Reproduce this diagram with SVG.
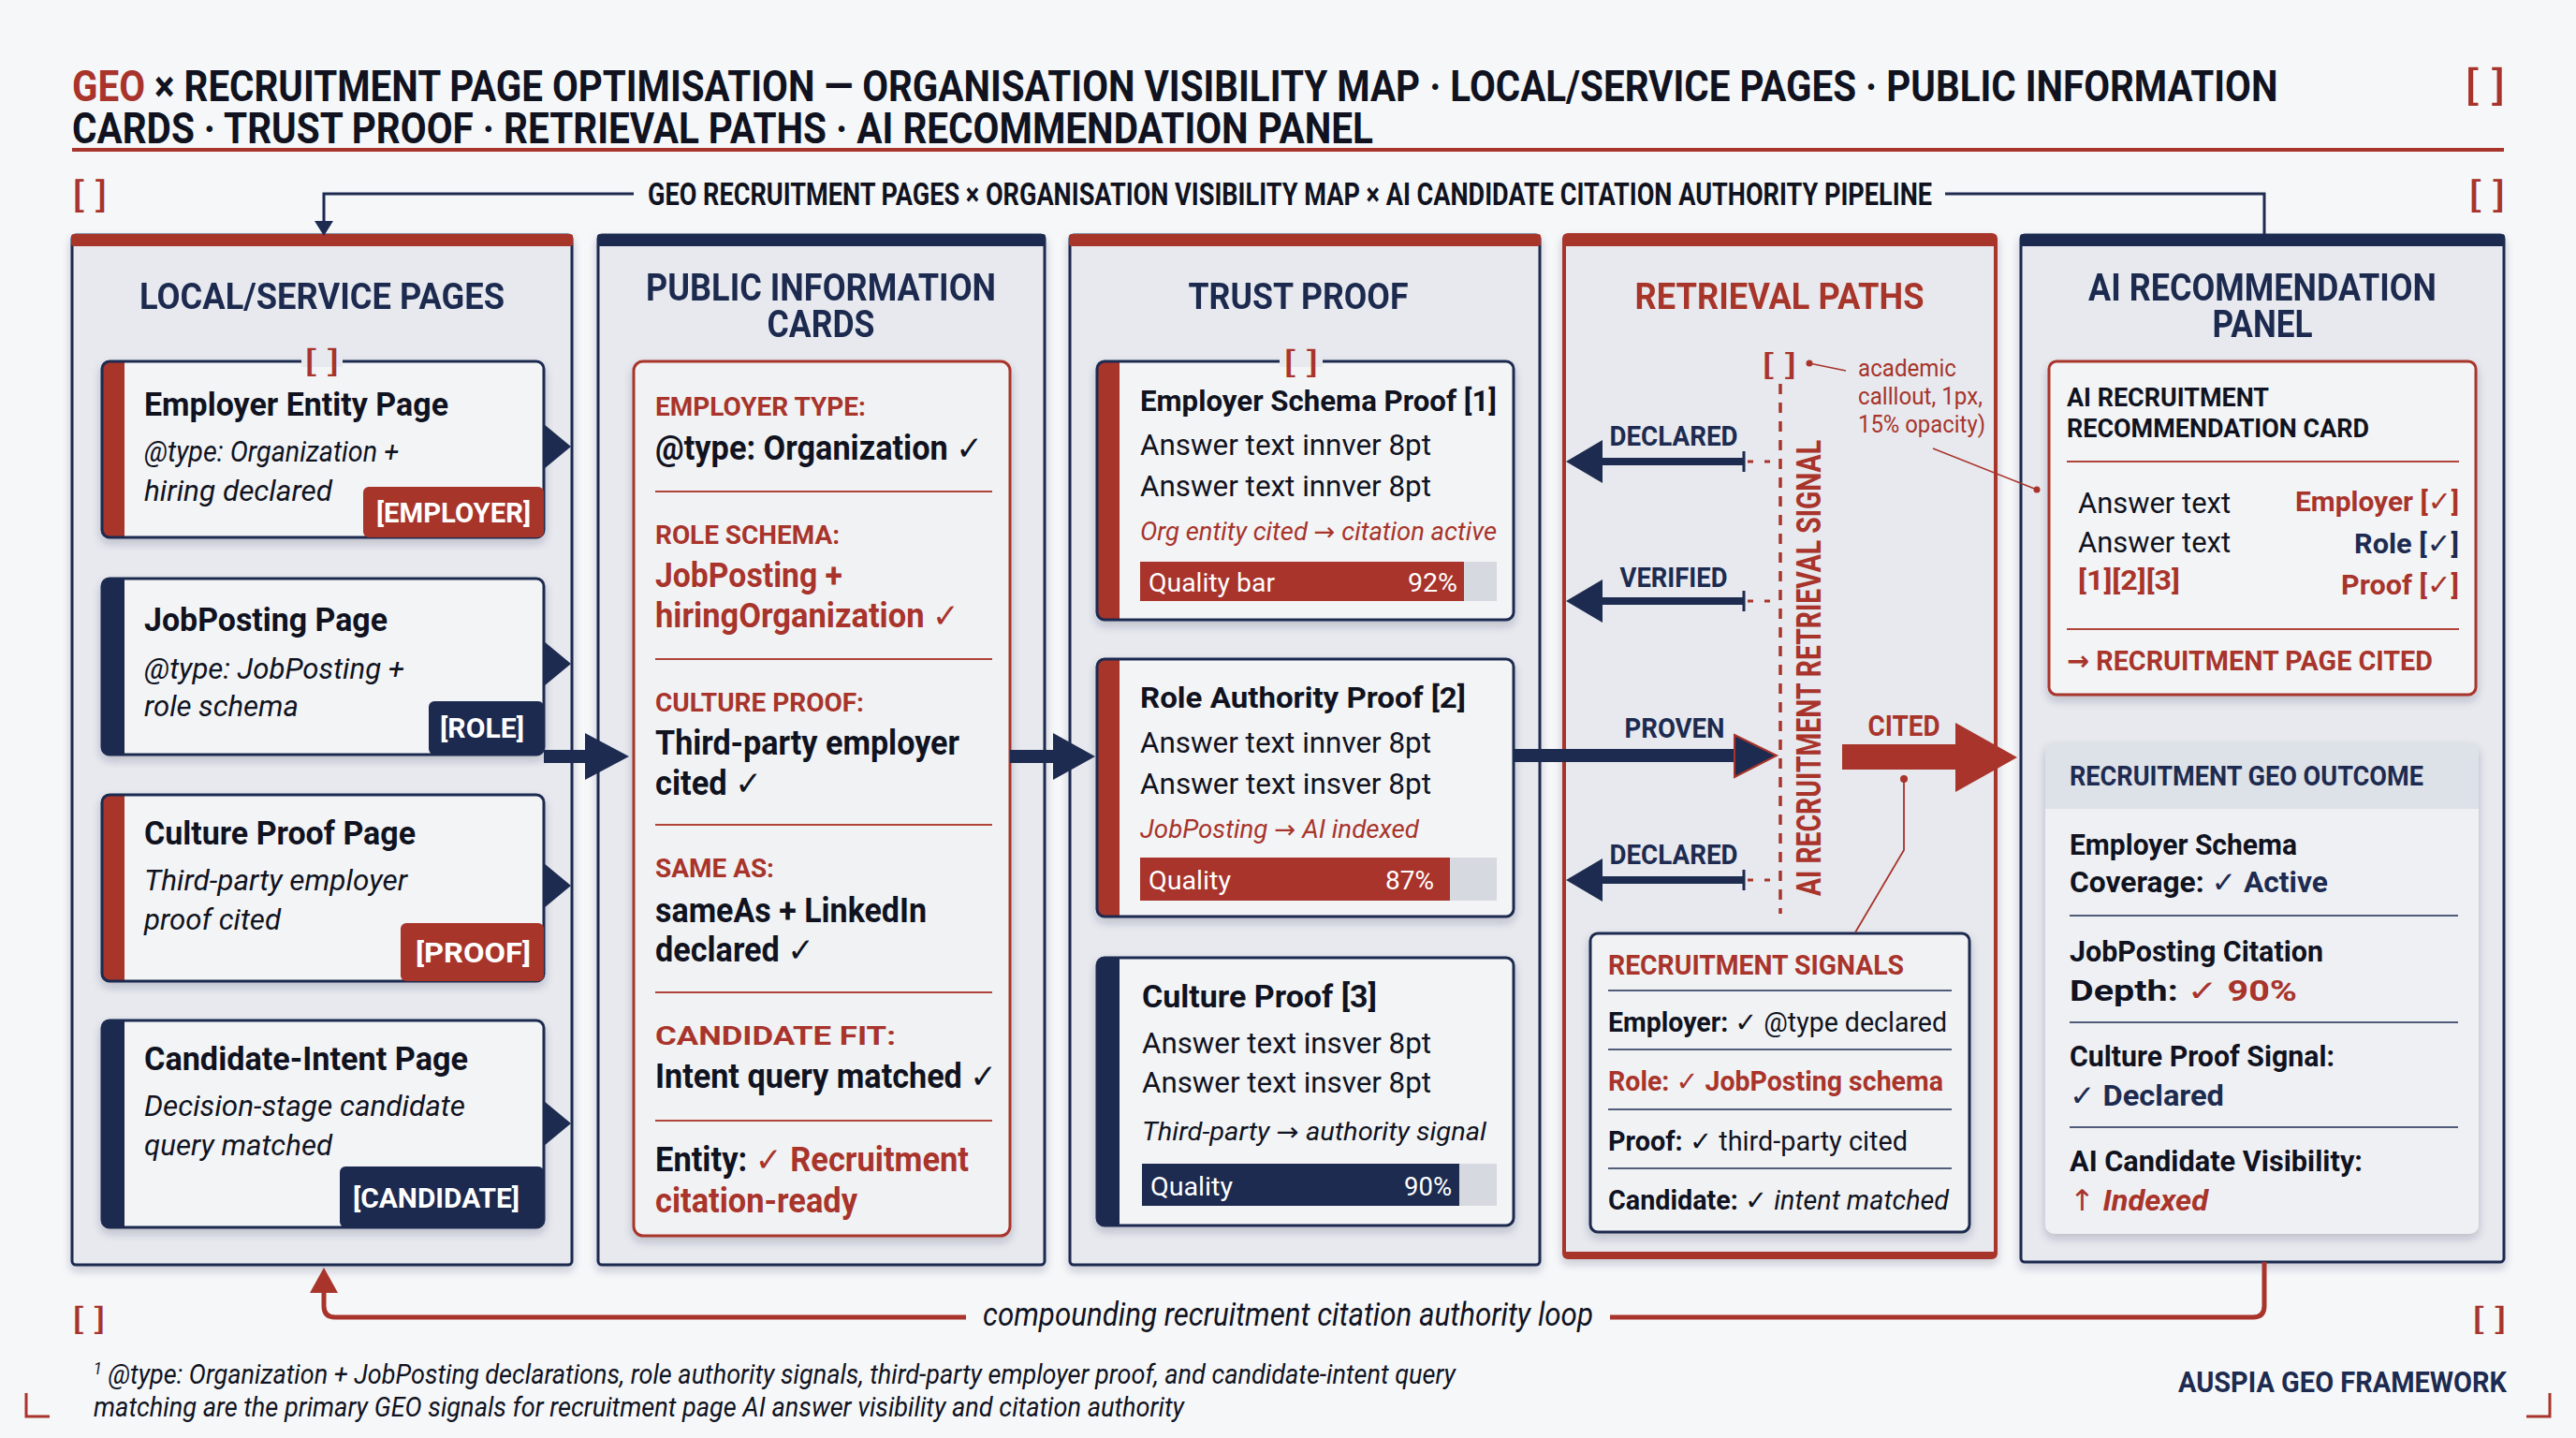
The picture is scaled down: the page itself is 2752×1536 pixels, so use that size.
<svg xmlns="http://www.w3.org/2000/svg" width="2752" height="1536" viewBox="0 0 2752 1536">
<defs>
<style>
text{font-family:Roboto,"Liberation Sans","DejaVu Sans",sans-serif;}
.ink{fill:#10131f}
.red{fill:#a8342b}
.navy{fill:#1d2b50}
.b{font-weight:700}
.i{font-style:italic}
.panel{fill:#e7e9ee;stroke:#1d2b50;stroke-width:3}
.card{fill:#f3f4f6}
.outline{fill:none;stroke:#1d2b50;stroke-width:3}
.div{stroke:#b0443b;stroke-width:2}
.gdiv{stroke:#1d2b50;stroke-width:1.5}
.wt{fill:#ffffff;font-weight:700}
.arw{font-family:"DejaVu Sans",sans-serif}
</style>
<filter id="sh" x="-5%" y="-5%" width="110%" height="112%">
<feDropShadow dx="0" dy="5" stdDeviation="5" flood-color="#1d2b50" flood-opacity="0.22"/>
</filter>
</defs>
<rect width="2752" height="1536" fill="#f6f7f9"/>

<!-- Title -->
<g id="title">
<text transform="translate(77,108) scale(0.78,1)" x="0" y="0" font-size="46" class="b ink" textLength="3021" lengthAdjust="spacingAndGlyphs"><tspan class="red">GEO</tspan> × RECRUITMENT PAGE OPTIMISATION — ORGANISATION VISIBILITY MAP · LOCAL/SERVICE PAGES · PUBLIC INFORMATION</text>
<text transform="translate(77,153) scale(0.78,1)" x="0" y="0" font-size="46" class="b ink" textLength="1782" lengthAdjust="spacingAndGlyphs">CARDS · TRUST PROOF · RETRIEVAL PATHS ·  AI RECOMMENDATION PANEL</text>
<rect x="77" y="158" width="2598" height="4" fill="#a8342b"/>
<text x="2633" y="106" font-size="42" class="red" textLength="44" lengthAdjust="spacingAndGlyphs">[ ]</text>
<text x="77" y="221" font-size="36" class="red" textLength="38" lengthAdjust="spacingAndGlyphs">[ ]</text>
<text x="2637" y="221" font-size="36" class="red" textLength="40" lengthAdjust="spacingAndGlyphs">[ ]</text>
<text transform="translate(692,219) scale(0.8,1)" x="0" y="0" font-size="33" class="b ink" textLength="1715" lengthAdjust="spacingAndGlyphs">GEO RECRUITMENT PAGES × ORGANISATION VISIBILITY MAP × AI CANDIDATE CITATION AUTHORITY PIPELINE</text>
</g>

<!-- Panels -->
<g id="panel-local" filter="url(#sh)">
<rect x="77" y="251" width="534" height="1100" rx="4" class="panel"/>
<rect x="76" y="250" width="536" height="13" rx="3" fill="#a8342b"/>
<text x="344" y="330" font-size="39" class="b navy" text-anchor="middle" textLength="390" lengthAdjust="spacingAndGlyphs">LOCAL/SERVICE PAGES</text>
</g>
<g id="panel-public" filter="url(#sh)">
<rect x="639" y="251" width="477" height="1100" rx="4" class="panel"/>
<rect x="638" y="250" width="479" height="13" rx="3" fill="#1d2b50"/>
<text x="877" y="321" font-size="40" class="b navy" text-anchor="middle" textLength="374" lengthAdjust="spacingAndGlyphs">PUBLIC INFORMATION</text>
<text x="877" y="360" font-size="40" class="b navy" text-anchor="middle" textLength="115" lengthAdjust="spacingAndGlyphs">CARDS</text>
</g>
<g id="panel-trust" filter="url(#sh)">
<rect x="1143" y="251" width="502" height="1100" rx="4" class="panel"/>
<rect x="1142" y="250" width="504" height="13" rx="3" fill="#a8342b"/>
<text x="1387" y="330" font-size="39" class="b navy" text-anchor="middle" textLength="235" lengthAdjust="spacingAndGlyphs">TRUST PROOF</text>
</g>
<g id="panel-retrieval" filter="url(#sh)">
<rect x="1671" y="251" width="461" height="1092" rx="4" fill="#e7e9ee" stroke="#a8342b" stroke-width="4"/>
<rect x="1670" y="250" width="463" height="13" rx="3" fill="#a8342b"/>
<rect x="1670" y="1337" width="463" height="7" rx="3" fill="#a8342b"/>
<text x="1901" y="330" font-size="39" class="b red" text-anchor="middle" textLength="309" lengthAdjust="spacingAndGlyphs">RETRIEVAL PATHS</text>
</g>
<g id="panel-ai" filter="url(#sh)">
<rect x="2159" y="251" width="516" height="1097" rx="4" class="panel"/>
<rect x="2158" y="250" width="518" height="13" rx="3" fill="#1d2b50"/>
<text x="2417" y="321" font-size="40" class="b navy" text-anchor="middle" textLength="372" lengthAdjust="spacingAndGlyphs">AI RECOMMENDATION</text>
<text x="2417" y="360" font-size="40" class="b navy" text-anchor="middle" textLength="107" lengthAdjust="spacingAndGlyphs">PANEL</text>
</g>

<!-- Panel 1 cards -->
<g id="card-employer">
<g filter="url(#sh)">
<rect x="109" y="386" width="472" height="188" rx="8" class="card"/>
<path d="M117 386 H133 V574 H117 Q109 574 109 566 V394 Q109 386 117 386Z" fill="#a8342b"/>
<rect x="109" y="386" width="472" height="188" rx="8" class="outline"/>
<rect x="388" y="520" width="193" height="54" rx="6" fill="#a8342b"/>
</g>
<rect x="322" y="380" width="44" height="12" fill="#e7e9ee"/>
<text x="325" y="397" font-size="32" class="red" textLength="38" lengthAdjust="spacingAndGlyphs">[ ]</text>
<text x="154" y="444" font-size="35" class="b ink" textLength="325" lengthAdjust="spacingAndGlyphs">Employer Entity Page</text>
<text x="154" y="493" font-size="31" class="i ink" textLength="272" lengthAdjust="spacingAndGlyphs">@type: Organization +</text>
<text x="154" y="535" font-size="31" class="i ink" textLength="201" lengthAdjust="spacingAndGlyphs">hiring declared</text>
<text x="402" y="558" font-size="30" class="wt" textLength="165" lengthAdjust="spacingAndGlyphs">[EMPLOYER]</text>
<path d="M581 453 L610 477 L581 501 Z" fill="#1d2b50"/>
</g>
<g id="card-jobposting">
<g filter="url(#sh)">
<rect x="109" y="618" width="472" height="188" rx="8" class="card"/>
<path d="M117 618 H133 V806 H117 Q109 806 109 798 V626 Q109 618 117 618Z" fill="#1d2b50"/>
<rect x="109" y="618" width="472" height="188" rx="8" class="outline"/>
<rect x="458" y="749" width="123" height="57" rx="6" fill="#1d2b50"/>
</g>
<text x="154" y="674" font-size="35" class="b ink" textLength="260" lengthAdjust="spacingAndGlyphs">JobPosting Page</text>
<text x="154" y="725" font-size="31" class="i ink" textLength="278" lengthAdjust="spacingAndGlyphs">@type: JobPosting +</text>
<text x="154" y="765" font-size="31" class="i ink" textLength="165" lengthAdjust="spacingAndGlyphs">role schema</text>
<text x="470" y="788" font-size="30" class="wt" textLength="90" lengthAdjust="spacingAndGlyphs">[ROLE]</text>
<path d="M581 685 L610 709 L581 733 Z" fill="#1d2b50"/>
</g>
<g id="card-culture">
<g filter="url(#sh)">
<rect x="109" y="849" width="472" height="199" rx="8" class="card"/>
<path d="M117 849 H133 V1048 H117 Q109 1048 109 1040 V857 Q109 849 117 849Z" fill="#a8342b"/>
<rect x="109" y="849" width="472" height="199" rx="8" class="outline"/>
<rect x="428" y="986" width="153" height="62" rx="6" fill="#a8342b"/>
</g>
<text x="154" y="902" font-size="35" class="b ink" textLength="290" lengthAdjust="spacingAndGlyphs">Culture Proof Page</text>
<text x="154" y="951" font-size="31" class="i ink" textLength="281" lengthAdjust="spacingAndGlyphs">Third-party employer</text>
<text x="154" y="993" font-size="31" class="i ink" textLength="146" lengthAdjust="spacingAndGlyphs">proof cited</text>
<text x="444" y="1028" font-size="30" class="wt" textLength="123" lengthAdjust="spacingAndGlyphs">[PROOF]</text>
<path d="M581 922 L610 946 L581 970 Z" fill="#1d2b50"/>
</g>
<g id="card-candidate">
<g filter="url(#sh)">
<rect x="109" y="1090" width="472" height="221" rx="8" class="card"/>
<path d="M117 1090 H133 V1311 H117 Q109 1311 109 1303 V1098 Q109 1090 117 1090Z" fill="#1d2b50"/>
<rect x="109" y="1090" width="472" height="221" rx="8" class="outline"/>
<rect x="363" y="1246" width="218" height="65" rx="6" fill="#1d2b50"/>
</g>
<text x="154" y="1143" font-size="35" class="b ink" textLength="346" lengthAdjust="spacingAndGlyphs">Candidate-Intent Page</text>
<text x="154" y="1192" font-size="31" class="i ink" textLength="343" lengthAdjust="spacingAndGlyphs">Decision-stage candidate</text>
<text x="154" y="1234" font-size="31" class="i ink" textLength="201" lengthAdjust="spacingAndGlyphs">query matched</text>
<text x="377" y="1290" font-size="30" class="wt" textLength="178" lengthAdjust="spacingAndGlyphs">[CANDIDATE]</text>
<path d="M581 1176 L610 1200 L581 1224 Z" fill="#1d2b50"/>
</g>

<!-- Panel 2 card -->
<g id="card-public-info">
<rect x="677" y="386" width="402" height="934" rx="10" fill="#f1f2f4" stroke="#a8342b" stroke-width="3" filter="url(#sh)"/>
<text x="700" y="444" font-size="28" class="b red" textLength="225" lengthAdjust="spacingAndGlyphs">EMPLOYER TYPE:</text>
<text x="700" y="491" font-size="36" class="b ink" textLength="350" lengthAdjust="spacingAndGlyphs">@type: Organization ✓</text>
<line x1="700" y1="525" x2="1060" y2="525" class="div"/>
<text x="700" y="581" font-size="28" class="b red" textLength="197" lengthAdjust="spacingAndGlyphs">ROLE SCHEMA:</text>
<text x="700" y="627" font-size="36" class="b red" textLength="200" lengthAdjust="spacingAndGlyphs">JobPosting +</text>
<text x="700" y="670" font-size="36" class="b red" textLength="325" lengthAdjust="spacingAndGlyphs">hiringOrganization ✓</text>
<line x1="700" y1="704" x2="1060" y2="704" class="div"/>
<text x="700" y="760" font-size="28" class="b red" textLength="223" lengthAdjust="spacingAndGlyphs">CULTURE PROOF:</text>
<text x="700" y="806" font-size="36" class="b ink" textLength="325" lengthAdjust="spacingAndGlyphs">Third-party employer</text>
<text x="700" y="849" font-size="36" class="b ink" textLength="114" lengthAdjust="spacingAndGlyphs">cited ✓</text>
<line x1="700" y1="881" x2="1060" y2="881" class="div"/>
<text x="700" y="937" font-size="28" class="b red" textLength="127" lengthAdjust="spacingAndGlyphs">SAME AS:</text>
<text x="700" y="985" font-size="36" class="b ink" textLength="290" lengthAdjust="spacingAndGlyphs">sameAs + LinkedIn</text>
<text x="700" y="1027" font-size="36" class="b ink" textLength="170" lengthAdjust="spacingAndGlyphs">declared ✓</text>
<line x1="700" y1="1060" x2="1060" y2="1060" class="div"/>
<text x="700" y="1116" font-size="28" class="b red" textLength="257" lengthAdjust="spacingAndGlyphs">CANDIDATE FIT:</text>
<text x="700" y="1162" font-size="36" class="b ink" textLength="365" lengthAdjust="spacingAndGlyphs">Intent query matched ✓</text>
<line x1="700" y1="1197" x2="1060" y2="1197" class="div"/>
<text x="700" y="1251" font-size="36" class="b ink" textLength="335" lengthAdjust="spacingAndGlyphs">Entity: <tspan class="red">✓ Recruitment</tspan></text>
<text x="700" y="1295" font-size="36" class="b red" textLength="216" lengthAdjust="spacingAndGlyphs">citation-ready</text>
</g>

<!-- Panel 3 cards -->
<g id="card-employer-proof">
<g filter="url(#sh)">
<rect x="1172" y="386" width="445" height="276" rx="8" class="card"/>
<path d="M1180 386 H1196 V662 H1180 Q1172 662 1172 654 V394 Q1172 386 1180 386Z" fill="#a8342b"/>
<rect x="1172" y="386" width="445" height="276" rx="8" class="outline"/>
</g>
<rect x="1367" y="380" width="46" height="12" fill="#e7e9ee"/>
<text x="1371" y="398" font-size="32" class="red" textLength="38" lengthAdjust="spacingAndGlyphs">[ ]</text>
<text x="1218" y="439" font-size="32" class="b ink" textLength="381" lengthAdjust="spacingAndGlyphs">Employer Schema Proof [1]</text>
<text x="1218" y="486" font-size="31" class="ink" textLength="311" lengthAdjust="spacingAndGlyphs">Answer text innver 8pt</text>
<text x="1218" y="530" font-size="31" class="ink" textLength="311" lengthAdjust="spacingAndGlyphs">Answer text innver 8pt</text>
<text x="1218" y="577" font-size="27" class="i red" textLength="381" lengthAdjust="spacingAndGlyphs">Org entity cited <tspan class="arw">→</tspan> citation active</text>
<rect x="1218" y="600" width="381" height="42" fill="#d6d9df"/>
<rect x="1218" y="600" width="346" height="42" fill="#a8342b"/>
<text x="1227" y="632" font-size="28" fill="#ffffff" textLength="135" lengthAdjust="spacingAndGlyphs">Quality bar</text>
<text x="1557" y="632" font-size="28" fill="#ffffff" text-anchor="end" textLength="53" lengthAdjust="spacingAndGlyphs">92%</text>
</g>
<g id="card-role-proof">
<g filter="url(#sh)">
<rect x="1172" y="704" width="445" height="275" rx="8" class="card"/>
<path d="M1180 704 H1196 V979 H1180 Q1172 979 1172 971 V712 Q1172 704 1180 704Z" fill="#a8342b"/>
<rect x="1172" y="704" width="445" height="275" rx="8" class="outline"/>
</g>
<text x="1218" y="756" font-size="32" class="b ink" textLength="348" lengthAdjust="spacingAndGlyphs">Role Authority Proof [2]</text>
<text x="1218" y="804" font-size="31" class="ink" textLength="311" lengthAdjust="spacingAndGlyphs">Answer text innver 8pt</text>
<text x="1218" y="848" font-size="31" class="ink" textLength="311" lengthAdjust="spacingAndGlyphs">Answer text insver 8pt</text>
<text x="1218" y="895" font-size="27" class="i red" textLength="298" lengthAdjust="spacingAndGlyphs">JobPosting <tspan class="arw">→</tspan> AI indexed</text>
<rect x="1218" y="916" width="381" height="46" fill="#d6d9df"/>
<rect x="1218" y="916" width="331" height="46" fill="#a8342b"/>
<text x="1227" y="950" font-size="28" fill="#ffffff" textLength="88" lengthAdjust="spacingAndGlyphs">Quality</text>
<text x="1532" y="950" font-size="28" fill="#ffffff" text-anchor="end" textLength="52" lengthAdjust="spacingAndGlyphs">87%</text>
</g>
<g id="card-culture-proof">
<g filter="url(#sh)">
<rect x="1172" y="1023" width="445" height="286" rx="8" class="card"/>
<path d="M1180 1023 H1196 V1309 H1180 Q1172 1309 1172 1301 V1031 Q1172 1023 1180 1023Z" fill="#1d2b50"/>
<rect x="1172" y="1023" width="445" height="286" rx="8" class="outline"/>
</g>
<text x="1220" y="1076" font-size="33" class="b ink" textLength="251" lengthAdjust="spacingAndGlyphs">Culture Proof [3]</text>
<text x="1220" y="1125" font-size="31" class="ink" textLength="309" lengthAdjust="spacingAndGlyphs">Answer text insver 8pt</text>
<text x="1220" y="1167" font-size="31" class="ink" textLength="309" lengthAdjust="spacingAndGlyphs">Answer text insver 8pt</text>
<text x="1220" y="1218" font-size="27" class="i ink" textLength="368" lengthAdjust="spacingAndGlyphs">Third-party <tspan class="arw">→</tspan> authority signal</text>
<rect x="1220" y="1243" width="379" height="45" fill="#d6d9df"/>
<rect x="1220" y="1243" width="339" height="45" fill="#1d2b50"/>
<text x="1229" y="1277" font-size="28" fill="#ffffff" textLength="88" lengthAdjust="spacingAndGlyphs">Quality</text>
<text x="1551" y="1277" font-size="28" fill="#ffffff" text-anchor="end" textLength="51" lengthAdjust="spacingAndGlyphs">90%</text>
</g>

<!-- Panel 4 contents -->
<g id="retrieval-signal">
<line x1="1902" y1="410" x2="1902" y2="976" stroke="#a8342b" stroke-width="3.5" stroke-dasharray="11 9"/>
<text transform="translate(1945,957) rotate(-90)" font-size="36" class="b red" textLength="487" lengthAdjust="spacingAndGlyphs">AI RECRUITMENT RETRIEVAL SIGNAL</text>
<text x="1882" y="400" font-size="30" class="red" textLength="38" lengthAdjust="spacingAndGlyphs">[ ]</text>
<circle cx="1933" cy="388" r="3.5" fill="#a8342b"/>
<line x1="1933" y1="388" x2="1972" y2="396" stroke="#a8342b" stroke-width="1.5"/>
<text x="1985" y="402" font-size="25" class="red" textLength="105" lengthAdjust="spacingAndGlyphs">academic</text>
<text x="1985" y="432" font-size="25" class="red" textLength="133" lengthAdjust="spacingAndGlyphs">calllout, 1px,</text>
<text x="1985" y="462" font-size="25" class="red" textLength="136" lengthAdjust="spacingAndGlyphs">15% opacity)</text>
</g>

<!-- Recruitment signals -->
<g id="recruitment-signals">
<rect x="1699" y="997" width="405" height="319" rx="8" fill="#f1f2f4" stroke="#1d2b50" stroke-width="3" filter="url(#sh)"/>
<text x="1718" y="1041" font-size="30" class="b red" textLength="316" lengthAdjust="spacingAndGlyphs">RECRUITMENT SIGNALS</text>
<line x1="1718" y1="1058" x2="2085" y2="1058" class="gdiv"/>
<text x="1718" y="1102" font-size="29" class="ink" textLength="362" lengthAdjust="spacingAndGlyphs"><tspan class="b">Employer: ✓</tspan> @type declared</text>
<line x1="1718" y1="1121" x2="2085" y2="1121" class="gdiv"/>
<text x="1718" y="1165" font-size="29" class="b red" textLength="358" lengthAdjust="spacingAndGlyphs">Role: ✓ JobPosting schema</text>
<line x1="1718" y1="1185" x2="2085" y2="1185" class="gdiv"/>
<text x="1718" y="1229" font-size="29" class="ink" textLength="320" lengthAdjust="spacingAndGlyphs"><tspan class="b">Proof:</tspan> ✓ third-party cited</text>
<line x1="1718" y1="1248" x2="2085" y2="1248" class="gdiv"/>
<text x="1718" y="1292" font-size="29" class="ink" textLength="364" lengthAdjust="spacingAndGlyphs"><tspan class="b">Candidate: ✓</tspan> <tspan class="i">intent matched</tspan></text>
</g>

<!-- Panel 5 contents -->
<g id="card-ai-recommendation">
<rect x="2189" y="386" width="456" height="356" rx="8" fill="#f3f4f6" stroke="#a8342b" stroke-width="3" filter="url(#sh)"/>
<text x="2208" y="434" font-size="28" class="b ink" textLength="216" lengthAdjust="spacingAndGlyphs">AI RECRUITMENT</text>
<text x="2208" y="467" font-size="28" class="b ink" textLength="323" lengthAdjust="spacingAndGlyphs">RECOMMENDATION CARD</text>
<line x1="2208" y1="493" x2="2627" y2="493" class="div"/>
<text x="2220" y="548" font-size="31" class="ink" textLength="163" lengthAdjust="spacingAndGlyphs">Answer text</text>
<text x="2220" y="590" font-size="31" class="ink" textLength="163" lengthAdjust="spacingAndGlyphs">Answer text</text>
<text x="2220" y="630" font-size="30" class="b red" textLength="109" lengthAdjust="spacingAndGlyphs">[1][2][3]</text>
<text x="2627" y="546" font-size="30" class="b red" text-anchor="end" textLength="175" lengthAdjust="spacingAndGlyphs">Employer [✓]</text>
<text x="2627" y="591" font-size="30" class="b navy" text-anchor="end" textLength="112" lengthAdjust="spacingAndGlyphs">Role [✓]</text>
<text x="2627" y="635" font-size="30" class="b red" text-anchor="end" textLength="126" lengthAdjust="spacingAndGlyphs">Proof [✓]</text>
<line x1="2208" y1="672" x2="2627" y2="672" class="div"/>
<text x="2208" y="716" font-size="29" class="b red" textLength="391" lengthAdjust="spacingAndGlyphs"><tspan class="arw">→</tspan> RECRUITMENT PAGE CITED</text>
<circle cx="2176" cy="523" r="3.5" fill="#a8342b"/>
</g>
<g id="card-geo-outcome">
<g filter="url(#sh)">
<rect x="2185" y="793" width="463" height="525" rx="10" fill="#eff0f3"/>
<path d="M2195 793 H2638 Q2648 793 2648 803 V864 H2185 V803 Q2185 793 2195 793Z" fill="#dde1e8"/>
</g>
<text x="2211" y="839" font-size="29" class="b navy" textLength="378" lengthAdjust="spacingAndGlyphs">RECRUITMENT GEO OUTCOME</text>
<text x="2211" y="913" font-size="31" class="b ink" textLength="243" lengthAdjust="spacingAndGlyphs">Employer Schema</text>
<text x="2211" y="953" font-size="31" class="b ink" textLength="276" lengthAdjust="spacingAndGlyphs">Coverage: <tspan class="navy">✓ Active</tspan></text>
<line x1="2211" y1="978" x2="2626" y2="978" class="gdiv"/>
<text x="2211" y="1027" font-size="31" class="b ink" textLength="271" lengthAdjust="spacingAndGlyphs">JobPosting Citation</text>
<text x="2211" y="1069" font-size="31" class="b ink" textLength="243" lengthAdjust="spacingAndGlyphs">Depth: <tspan class="red">✓ 90%</tspan></text>
<line x1="2211" y1="1092" x2="2626" y2="1092" class="gdiv"/>
<text x="2211" y="1139" font-size="31" class="b ink" textLength="283" lengthAdjust="spacingAndGlyphs">Culture Proof Signal:</text>
<text x="2211" y="1181" font-size="31" class="b navy" textLength="165" lengthAdjust="spacingAndGlyphs">✓ Declared</text>
<line x1="2211" y1="1204" x2="2626" y2="1204" class="gdiv"/>
<text x="2211" y="1251" font-size="31" class="b ink" textLength="313" lengthAdjust="spacingAndGlyphs">AI Candidate Visibility:</text>
<text x="2211" y="1293" font-size="31" class="red" textLength="148" lengthAdjust="spacingAndGlyphs"><tspan class="arw">↑</tspan> <tspan class="b i">Indexed</tspan></text>
</g>

<!-- Connectors -->
<g id="connectors">
<path d="M677 207 H346 V243" fill="none" stroke="#1d2b50" stroke-width="3"/>
<path d="M336 236 L346 252 L356 236 Z" fill="#1d2b50"/>
<path d="M2078 207 H2419 V251" fill="none" stroke="#1d2b50" stroke-width="3"/>

<rect x="581" y="801" width="48" height="14" fill="#1d2b50"/>
<path d="M625 783 L672 808 L625 833 Z" fill="#1d2b50"/>
<rect x="1079" y="801" width="50" height="14" fill="#1d2b50"/>
<path d="M1125 783 L1170 808 L1125 833 Z" fill="#1d2b50"/>

<rect x="1617" y="800" width="240" height="14" fill="#1d2b50"/>
<path d="M1853 785 L1898 807 L1853 830 Z" fill="#1d2b50" stroke="#a8342b" stroke-width="2"/>
<text x="1789" y="788" font-size="30" class="b navy" text-anchor="middle" textLength="107" lengthAdjust="spacingAndGlyphs">PROVEN</text>

<text x="1788" y="476" font-size="30" class="b navy" text-anchor="middle" textLength="137" lengthAdjust="spacingAndGlyphs">DECLARED</text>
<rect x="1710" y="489" width="153" height="8" fill="#1d2b50"/>
<path d="M1712 470 L1673 493 L1712 516 Z" fill="#1d2b50"/>
<line x1="1863" y1="482" x2="1863" y2="504" stroke="#1d2b50" stroke-width="3"/>
<line x1="1867" y1="493" x2="1902" y2="493" stroke="#a8342b" stroke-width="3" stroke-dasharray="6 12"/>

<text x="1788" y="627" font-size="30" class="b navy" text-anchor="middle" textLength="115" lengthAdjust="spacingAndGlyphs">VERIFIED</text>
<rect x="1710" y="638" width="153" height="8" fill="#1d2b50"/>
<path d="M1712 619 L1673 642 L1712 665 Z" fill="#1d2b50"/>
<line x1="1863" y1="631" x2="1863" y2="653" stroke="#1d2b50" stroke-width="3"/>
<line x1="1867" y1="642" x2="1902" y2="642" stroke="#a8342b" stroke-width="3" stroke-dasharray="6 12"/>

<text x="1788" y="923" font-size="30" class="b navy" text-anchor="middle" textLength="137" lengthAdjust="spacingAndGlyphs">DECLARED</text>
<rect x="1710" y="936" width="153" height="8" fill="#1d2b50"/>
<path d="M1712 917 L1673 940 L1712 963 Z" fill="#1d2b50"/>
<line x1="1863" y1="929" x2="1863" y2="951" stroke="#1d2b50" stroke-width="3"/>
<line x1="1867" y1="940" x2="1902" y2="940" stroke="#a8342b" stroke-width="3" stroke-dasharray="6 12"/>

<text x="2034" y="786" font-size="31" class="b red" text-anchor="middle" textLength="77" lengthAdjust="spacingAndGlyphs">CITED</text>
<rect x="1968" y="795" width="124" height="27" fill="#a8342b"/>
<path d="M2089 772 L2155 809 L2089 846 Z" fill="#a8342b"/>
<circle cx="2034" cy="832" r="4" fill="#a8342b"/>
<path d="M2034 832 V908 L1982 996" fill="none" stroke="#a8342b" stroke-width="1.8"/>
<line x1="2065" y1="479" x2="2176" y2="523" stroke="#a8342b" stroke-width="1.5"/>

<path d="M2419 1348 V1395 Q2419 1407 2407 1407 H1720" fill="none" stroke="#a8342b" stroke-width="5"/>
<path d="M1032 1407 H358 Q346 1407 346 1395 V1378" fill="none" stroke="#a8342b" stroke-width="5"/>
<path d="M331 1381 L346 1354 L361 1381 Z" fill="#a8342b"/>
<text x="1050" y="1416" font-size="35" class="i ink" textLength="652" lengthAdjust="spacingAndGlyphs">compounding recruitment citation authority loop</text>
</g>

<!-- Footer -->
<g id="footer">
<text x="77" y="1420" font-size="32" class="red" textLength="36" lengthAdjust="spacingAndGlyphs">[ ]</text>
<text x="2641" y="1420" font-size="32" class="red" textLength="37" lengthAdjust="spacingAndGlyphs">[ ]</text>
<text x="100" y="1478" font-size="30" class="i ink" textLength="1455" lengthAdjust="spacingAndGlyphs"><tspan font-size="18" dy="-10">1</tspan><tspan dy="10"> @type: Organization + JobPosting declarations, role authority signals, third-party employer proof, and candidate-intent query</tspan></text>
<text x="100" y="1513" font-size="30" class="i ink" textLength="1165" lengthAdjust="spacingAndGlyphs">matching are the primary GEO signals for recruitment page AI answer visibility and citation authority</text>
<text x="2678" y="1487" font-size="31" class="b navy" text-anchor="end" textLength="351" lengthAdjust="spacingAndGlyphs">AUSPIA GEO FRAMEWORK</text>
<path d="M28 1488 V1513 H53" fill="none" stroke="#a8342b" stroke-width="3"/>
<path d="M2724 1488 V1513 H2699" fill="none" stroke="#a8342b" stroke-width="3"/>
</g>
</svg>
